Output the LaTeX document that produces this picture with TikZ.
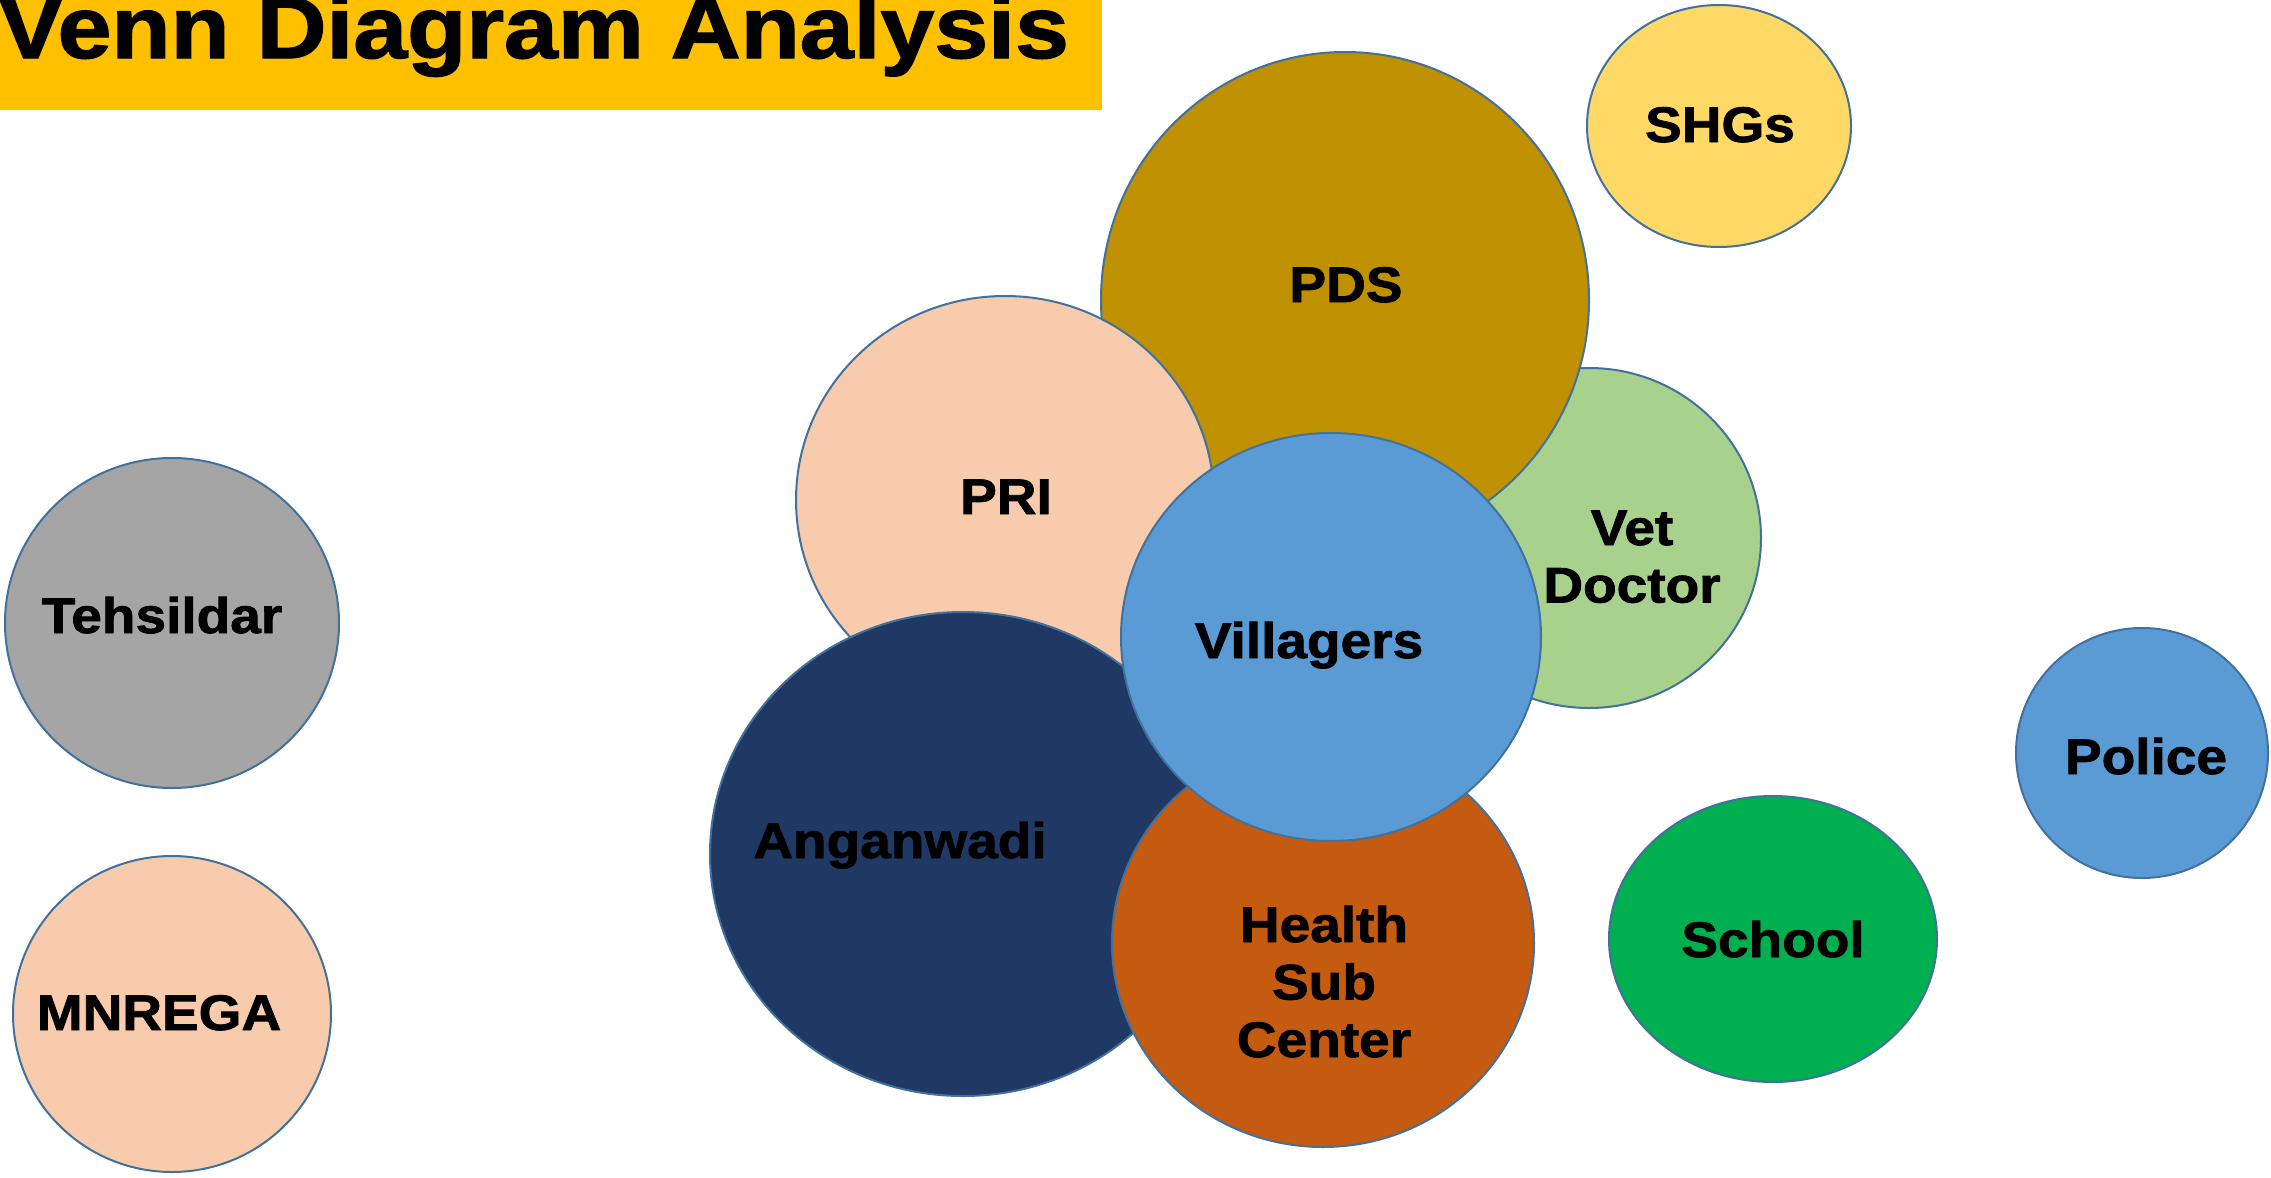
\documentclass[tikz,border=0pt]{standalone}
\usepackage{fontspec}
\setmainfont{Liberation Sans}[BoldFeatures={FakeBold=1.5}]
\usepackage{graphicx}
\usetikzlibrary{shapes.geometric}
\definecolor{titlebg}{HTML}{FFC000}
\definecolor{cshg}{HTML}{FFD966}
\definecolor{cpds}{HTML}{BF9000}
\definecolor{cvet}{HTML}{A9D18E}
\definecolor{cpeach}{HTML}{F8CBAD}
\definecolor{cblue}{HTML}{5B9BD5}
\definecolor{cnavy}{HTML}{203864}
\definecolor{chealth}{HTML}{C55A11}
\definecolor{cschool}{HTML}{00B050}
\definecolor{cgrey}{HTML}{A5A5A5}
\definecolor{cline}{HTML}{41719C}
\newcommand{\lbl}[1]{\scalebox{1.1}[1]{\begin{tabular}[t]{@{}c@{}}#1\end{tabular}}}
\tikzset{
  blob/.style n args={2}{ellipse, draw=cline, line width=1pt, inner sep=0pt,
     minimum width=#1pt, minimum height=#2pt},
  lab/.style={anchor=base, inner sep=0pt, font=\fontsize{25}{28.75}\selectfont\bfseries, text=black}
}
\begin{document}
\begin{tikzpicture}[x=0.5pt,y=-0.5pt]
\useasboundingbox (0,0) rectangle (2271,1178);
\fill[white] (0,0) rectangle (2271,1178);
% circles (back to front); sizes in pt = diameter in px / 2
\node[blob={132}{121}, fill=cshg] (shg) at (1719,126) {};
\node[blob={167}{165}, fill=cgrey] (teh) at (172,623) {};
\node[blob={159}{158}, fill=cpeach] (mnr) at (172,1014) {};
\node[blob={126}{125}, fill=cblue] (pol) at (2142,753) {};
\node[blob={164}{143}, fill=cschool] (sch) at (1773,939) {};
\node[blob={172}{170}, fill=cvet] (vet) at (1589,538) {};
\node[blob={244}{248}, fill=cpds] (pds) at (1345,300) {};
\node[blob={209}{204}, fill=cpeach] (pri) at (1005,500) {};
\node[blob={253}{242}, fill=cnavy] (ang) at (963,854) {};
\node[blob={211}{204}, fill=chealth] (hsc) at (1323,943) {};
\node[blob={210}{204}, fill=cblue] (vil) at (1331,637) {};
% title
\fill[titlebg] (0,0) rectangle (1102,110);
\node[anchor=base west, inner sep=0pt, font=\fontsize{44}{50}\selectfont\bfseries] (title) at (-2,58) {\scalebox{1.1}[1]{Venn Diagram Analysis}};
% labels
\node[lab] (tshg) at (1720,142) {\lbl{SHGs}};
\node[lab] (tpds) at (1346,302) {\lbl{PDS}};
\node[lab] (tpri) at (1006,514) {\lbl{PRI}};
\node[lab] (tvet) at (1632,545) {\lbl{Vet\\Doctor}};
\node[lab] (tvil) at (1309,658) {\lbl{Villagers}};
\node[lab] (tteh) at (162,633) {\lbl{Tehsildar}};
\node[lab] (tang) at (900,858) {\lbl{Anganwadi}};
\node[lab] (thsc) at (1324,942) {\lbl{Health\\Sub\\Center}};
\node[lab] (tsch) at (1773,957) {\lbl{School}};
\node[lab] (tpol) at (2146,774) {\lbl{Police}};
\node[lab] (tmnr) at (159,1030) {\lbl{MNREGA}};
\end{tikzpicture}
\end{document}
